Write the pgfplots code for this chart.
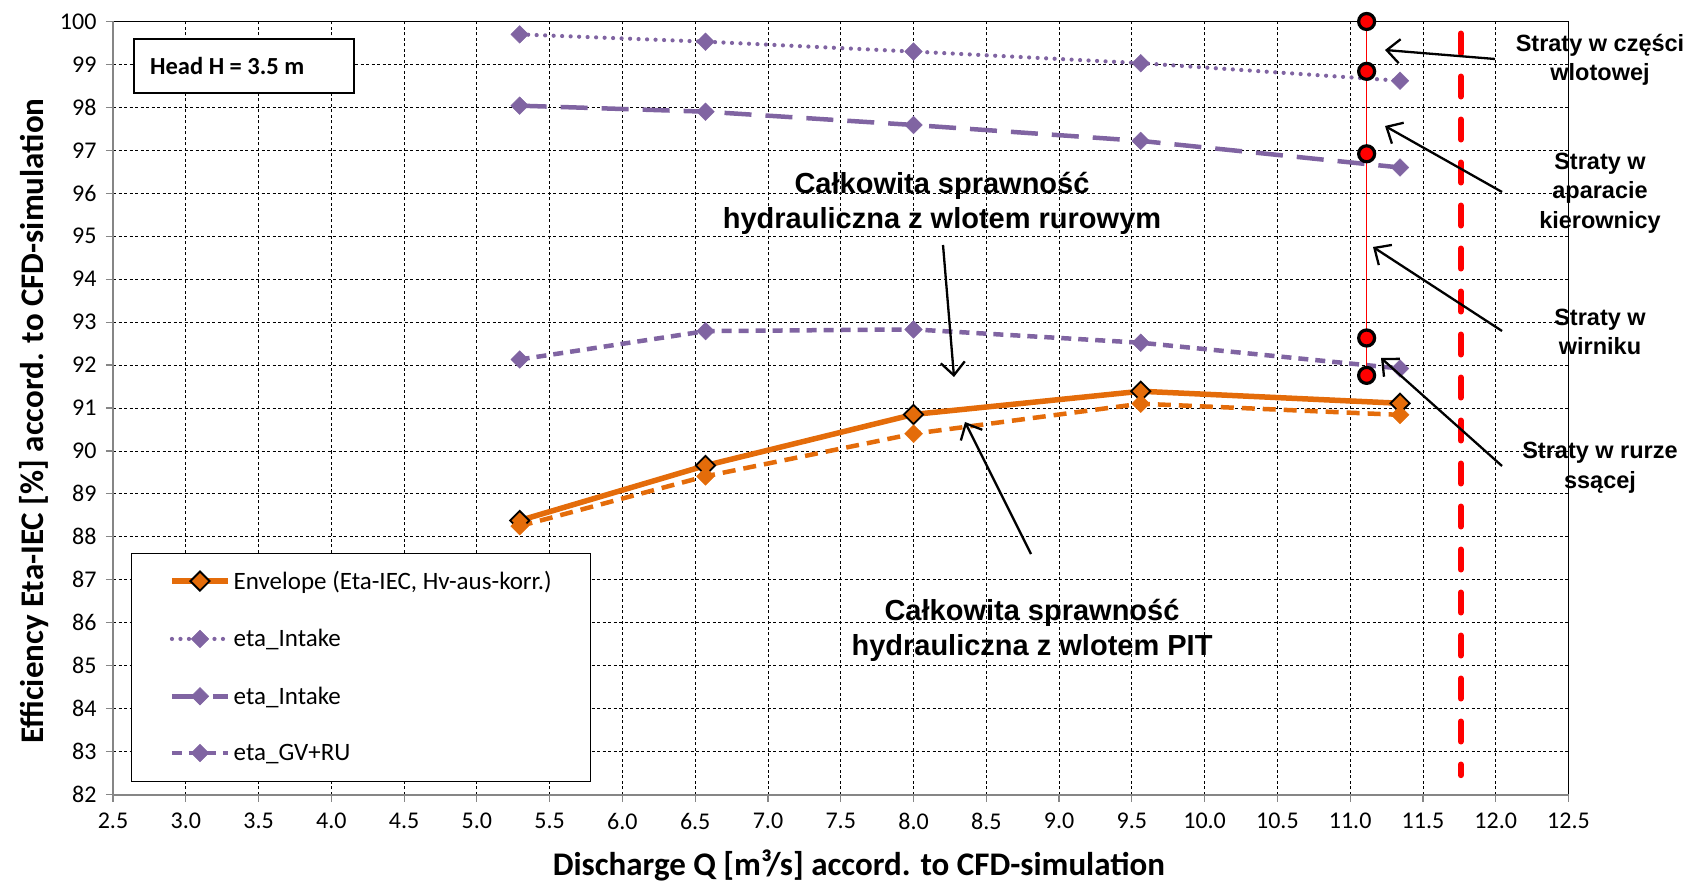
\documentclass[border=0pt]{standalone}
\usepackage{fontspec}
\setmainfont{Carlito}
\newfontfamily\arialfont{Liberation Sans}
\usepackage{pgfplots}
\pgfplotsset{compat=1.18}
\usetikzlibrary{arrows.meta}
\definecolor{epurple}{HTML}{8064A2}
\definecolor{eorange}{HTML}{E46C0A}
\definecolor{axgray}{HTML}{868686}

\begin{document}
\begin{tikzpicture}
\useasboundingbox (0pt,0pt) rectangle (1688pt,884pt);
\begin{axis}[
  at={(113pt,89.5pt)}, anchor=south west,
  width=1455.5pt, height=773pt, scale only axis,
  xmin=2.5, xmax=12.5, ymin=82, ymax=100,
  xtick distance=0.5, ytick distance=1,
  clip=false,
  axis line style={black, line width=1pt},
  tick align=outside, major tick length=7pt,
  xtick pos=lower, ytick pos=left,
  tick style={axgray, line width=1.2pt},
  grid=major,
  grid style={black, line width=0.8pt, dash pattern=on 3pt off 2.5pt},
  /pgf/number format/assume math mode=true,
  xticklabel style={/pgf/number format/.cd, fixed, fixed zerofill, precision=1, /tikz/.cd, font=\fontsize{24}{28}\selectfont, yshift=-8pt},
  yticklabel style={font=\fontsize{24}{28}\selectfont, xshift=-6pt},
  xlabel={Discharge Q [m³/s] accord. to CFD-simulation},
  ylabel={Efficiency Eta-IEC [\%] accord. to CFD-simulation},
  every axis x label/.style={at={(axis description cs:0.5125,-0.0912)}, anchor=center, font=\fontsize{33}{38}\selectfont\bfseries},
  every axis y label/.style={at={(axis description cs:-0.0543,0.483)}, rotate=90, anchor=center, font=\fontsize{33}{38}\selectfont\bfseries},
  legend style={draw=none, fill=none, at={(axis description cs:0.0385,0.293)}, anchor=north west,
    font=\fontsize{25}{30}\selectfont, row sep=32.5pt, inner sep=0pt, nodes={inner sep=3pt, anchor=west}},
  legend cell align=left,
  legend image code/.code={\draw[mark repeat=2,mark phase=2,#1] plot coordinates {(0pt,0pt) (28pt,0pt) (56pt,0pt)};},
]
% legend box and head box (drawn over grid, under data)
\draw[black, line width=1pt, fill=white] (axis cs:2.6305,87.622) rectangle (axis cs:5.784,82.30);
\draw[black, line width=1.5pt, fill=white] (axis cs:2.644,99.59) rectangle (axis cs:4.156,98.335);
\node[anchor=west, font=\fontsize{24.5}{28}\selectfont\bfseries, inner sep=0pt] at (axis cs:2.754,98.96) {Head H = 3.5 m};

% red dashed vertical limit
\addplot[red, line width=6pt, line cap=round, dash pattern=on 20pt off 23pt, forget plot]
  coordinates {(11.76,99.72) (11.76,82.45)};

\addplot[eorange, line width=5.5pt, mark=square*, mark size=6.8pt,
  mark options={rotate=45, fill=eorange, draw=black, line width=1.8pt, solid}]
  coordinates {(5.294,88.38) (6.571,89.66) (8.0,90.85) (9.561,91.39) (11.343,91.11)};
\addlegendentry{Envelope (Eta-IEC, Hv-aus-korr.)}

\addplot[epurple, line width=4.2pt, line cap=round, dash pattern=on 0pt off 8.5pt, mark=square*, mark size=6.2pt,
  mark options={rotate=45, fill=epurple, draw=epurple, line width=0.5pt, solid}]
  coordinates {(5.294,99.70) (6.571,99.53) (8.0,99.30) (9.561,99.03) (11.343,98.62)};
\addlegendentry{eta\_Intake}

\addplot[epurple, line width=4.5pt, dash pattern=on 27pt off 14pt, mark=square*, mark size=6.2pt,
  mark options={rotate=45, fill=epurple, draw=epurple, line width=0.5pt, solid}]
  coordinates {(5.294,98.04) (6.571,97.90) (8.0,97.59) (9.561,97.22) (11.343,96.60)};
\addlegendentry{eta\_Intake}

\addplot[epurple, line width=4.5pt, dash pattern=on 10pt off 7pt, mark=square*, mark size=6.2pt,
  mark options={rotate=45, fill=epurple, draw=epurple, line width=0.5pt, solid}]
  coordinates {(5.294,92.13) (6.571,92.79) (8.0,92.83) (9.561,92.52) (11.343,91.92)};
\addlegendentry{eta\_GV+RU}

\addplot[eorange, line width=4.5pt, dash pattern=on 13pt off 8pt, mark=square*, mark size=6.3pt,
  mark options={rotate=45, fill=eorange, draw=eorange, line width=0.5pt, solid}, forget plot]
  coordinates {(5.294,88.25) (6.571,89.41) (8.0,90.40) (9.561,91.10) (11.343,90.84)};

% red loss column
\addplot[red, line width=1.3pt, forget plot] coordinates {(11.113,100) (11.113,91.76)};
\addplot[only marks, mark=*, mark size=8pt, mark options={fill=red, draw=black, line width=3.2pt}, forget plot]
  coordinates {(11.113,100.0) (11.113,98.84) (11.113,96.92) (11.113,92.63) (11.113,91.76)};

% gray left and bottom axis lines
\draw[axgray, line width=2pt] (rel axis cs:0,1) -- (rel axis cs:0,0) -- (rel axis cs:1,0);
\end{axis}

% annotations
\begin{scope}[line width=2.3pt, -{Straight Barb[length=13pt,width=24pt]}]
\draw (1495pt,825pt) -- (1385pt,834pt);
\draw (1502pt,692pt) -- (1385pt,758pt);
\draw (1502pt,553pt) -- (1373pt,637pt);
\draw (1502pt,418pt) -- (1381pt,526pt);
\draw (943pt,639pt) -- (954pt,507pt);
\draw (1031pt,330pt) -- (965pt,462pt);
\end{scope}

\begin{scope}[every node/.style={align=center, inner sep=0pt, font=\arialfont\bfseries\fontsize{29}{35}\selectfont}]
\node at (942pt,681pt) {Całkowita sprawność\\hydrauliczna z wlotem rurowym};
\node at (1032pt,254pt) {Całkowita sprawność\\hydrauliczna z wlotem PIT};
\end{scope}
\begin{scope}[every node/.style={align=center, inner sep=0pt, font=\arialfont\bfseries\fontsize{23.5}{29.5}\selectfont}]
\node at (1600pt,824pt) {Straty w części\\wlotowej};
\node at (1600pt,691pt) {Straty w\\aparacie\\kierownicy};
\node at (1600pt,552pt) {Straty w\\wirniku};
\node at (1600pt,416.5pt) {Straty w rurze\\ssącej};
\end{scope}
\end{tikzpicture}
\end{document}
